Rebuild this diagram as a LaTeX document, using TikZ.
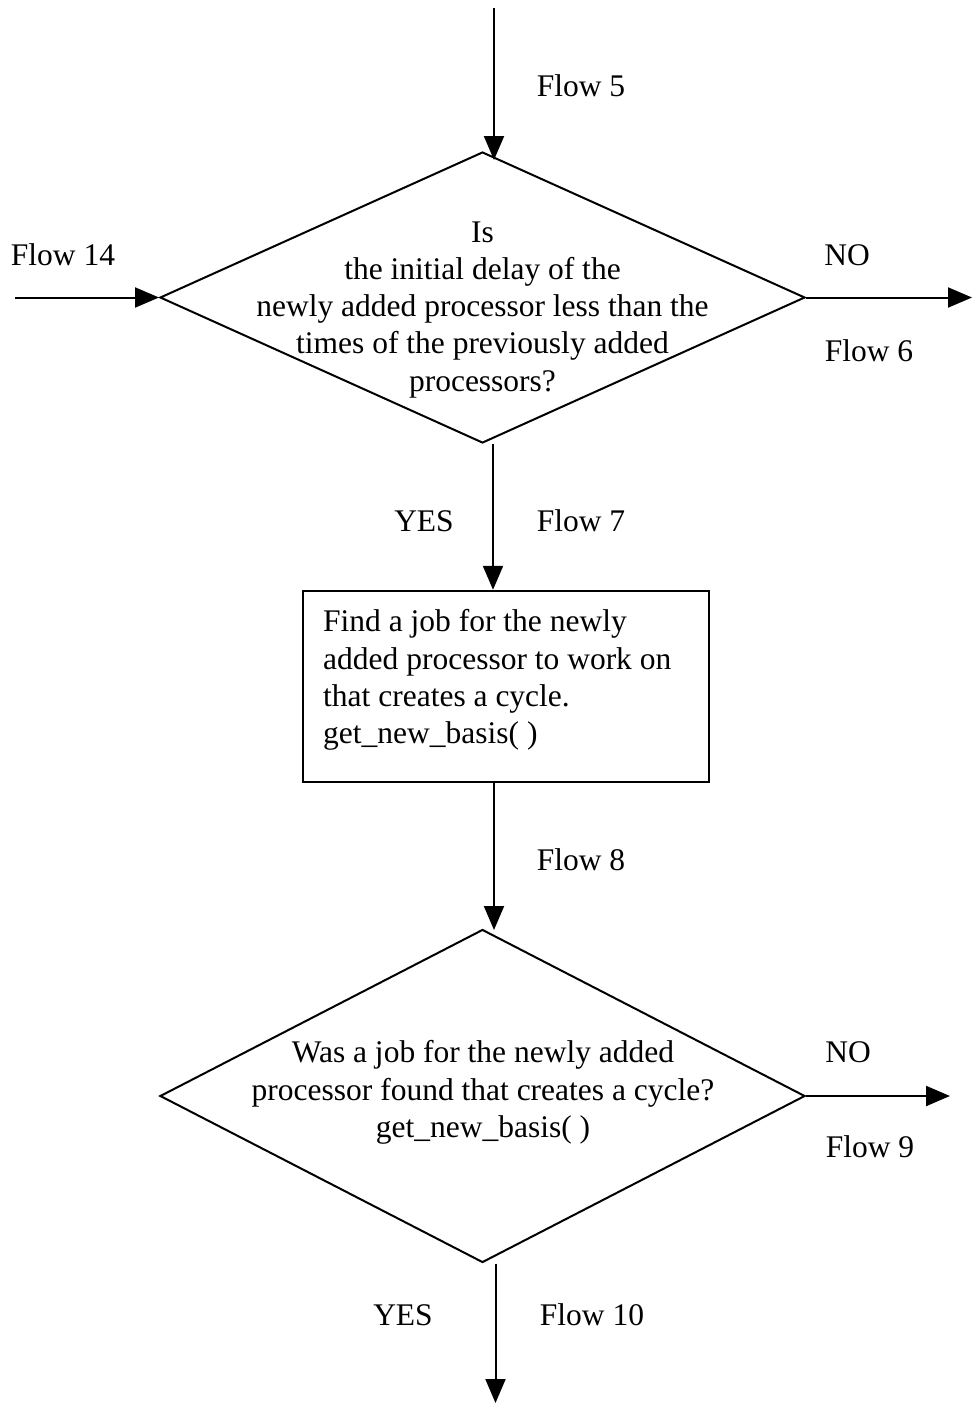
\documentclass[tikz,border=0pt]{standalone}
\usepackage{fontspec}
\setmainfont{Liberation Serif}
\usetikzlibrary{shapes.geometric,arrows.meta}
\begin{document}
\begin{tikzpicture}[x=1pt,y=-1pt,
  every node/.style={font=\fontsize{31.5}{37.2}\selectfont, inner sep=0pt},
  flow/.style={line width=2pt, -{Triangle[length=24pt,width=20pt]}},
  decision/.style={draw, line width=2pt, diamond, minimum width=645pt, inner sep=0pt},
  process/.style={draw, line width=2pt, rectangle, inner sep=0pt},
  lbl/.style={anchor=base}]
\useasboundingbox (0,0) rectangle (972,1403);

% first decision
\node[decision, minimum height=291pt] (d1) at (482.5,297.5) {};
\node[anchor=north, align=center] (q1) at (482.5,221.5)
  {Is\\the initial delay of the\\newly added processor less than the\\times of the previously added\\processors?};

% process box
\node[process, minimum width=406pt, minimum height=191pt] (job) at (506,686.3) {};
\node[anchor=north west, align=left] (jobtext) at (323,609.5)
  {Find a job for the newly\\added processor to work on\\that creates a cycle.\\get\_new\_basis( )};

% second decision
\node[decision, minimum height=333pt] (d2) at (482.5,1096) {};
\node[anchor=north, align=center] (q2) at (483,1040.5)
  {Was a job for the newly added\\processor found that creates a cycle?\\get\_new\_basis( )};

% free ends of the flows
\coordinate (in5) at (494,8);
\coordinate (hit5) at (494,160);
\coordinate (in14) at (15,297.5);
\coordinate (out6) at (972,297.5);
\coordinate (hit8) at (494,930);
\coordinate (out9) at (950,1096);
\coordinate (out10) at (495.5,1403);

% flows
\draw[flow] (in5) -- (hit5);
\draw[flow] (in14) -- (d1.west);
\draw[flow] (d1.east) -- (out6);
\draw[flow] ([xshift=10.5pt]d1.south) -- ([xshift=10.5pt]d1.south |- job.north);
\draw[flow] (job.south -| hit8) -- (hit8);
\draw[flow] (d2.east) -- (out9);
\draw[flow] ([xshift=13pt]d2.south) -- (out10);

% flow labels
\node[lbl] (f5) at (581,96) {Flow 5};
\node[lbl] (f14) at (63,265) {Flow 14};
\node[lbl] (no1) at (847,265) {NO};
\node[lbl] (f6) at (869,361) {Flow 6};
\node[lbl] (yes1) at (424,531) {YES};
\node[lbl] (f7) at (581,531) {Flow 7};
\node[lbl] (f8) at (581,870) {Flow 8};
\node[lbl] (no2) at (848,1062) {NO};
\node[lbl] (f9) at (870,1157) {Flow 9};
\node[lbl] (yes2) at (403,1325) {YES};
\node[lbl] (f10) at (592,1325) {Flow 10};
\end{tikzpicture}
\end{document}
